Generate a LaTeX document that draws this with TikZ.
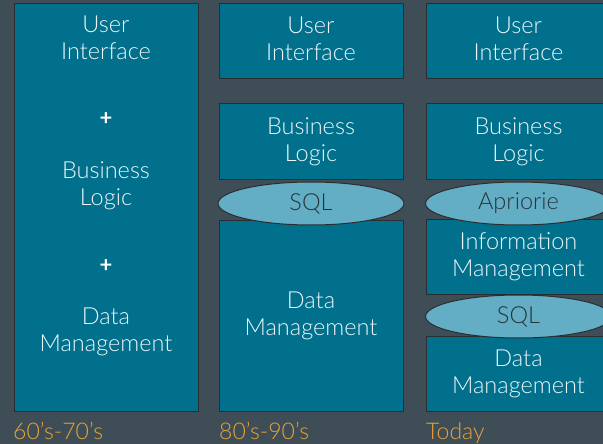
\documentclass[tikz,border=0pt]{standalone}
\usepackage{fontspec}
\setmainfont{Lato}[UprightFont=* Light, BoldFont=* Bold]
\usetikzlibrary{shapes.geometric}
\definecolor{bgslate}{HTML}{3E4D56}
\definecolor{boxteal}{HTML}{00708C}
\definecolor{ovalblue}{HTML}{63AEC4}
\definecolor{edgedark}{HTML}{2A2E30}
\definecolor{inkdark}{HTML}{26343A}
\definecolor{eraorange}{HTML}{E9A338}
\definecolor{paleink}{HTML}{EEF7FA}
\tikzset{
  tier/.style={draw=edgedark, fill=boxteal, line width=1pt, inner sep=0pt,
    minimum width=184pt},
  layer/.style={draw=edgedark, fill=ovalblue, ellipse, line width=1pt, inner sep=0pt,
    minimum width=186pt, minimum height=43pt, text=inkdark,
    font=\fontsize{23.5}{27}\selectfont},
  words/.style={text=paleink, align=center, font=\fontsize{23.5}{27}\selectfont},
  era/.style={text=eraorange, anchor=base west, inner sep=0pt, font=\fontsize{23}{26}\selectfont},
  joiner/.style={text=white, font=\fontsize{22}{26}\selectfont\bfseries}
}
\begin{document}
\begin{tikzpicture}[x=1pt, y=-1pt]
  \fill[bgslate] (0,0) rectangle (603,444);
  \clip (0,0) rectangle (603,444);
  \useasboundingbox (0,0) rectangle (603,444);

  % 60's-70's: one monolithic block
  \node[tier, minimum height=407pt] (mono) at (106,207.5) {};
  \node[words] (monoUI) at (106,38) {User\\Interface};
  \node[joiner] (plusA) at (106,119) {+};
  \node[words] (monoBL) at (106,185.5) {Business\\Logic};
  \node[joiner] (plusB) at (106,266) {+};
  \node[words] (monoDM) at (106,331.5) {Data\\Management};

  % 80's-90's: client / server
  \node[tier, minimum height=75pt] (csUI) at (311,41.5) {};
  \node[words] at (311,38.5) {User\\Interface};
  \node[tier, minimum height=75pt] (csBL) at (311,141.5) {};
  \node[words] at (csBL) {Business\\Logic};
  \node[tier, minimum height=191pt] (csDM) at (311,315.5) {};
  \node[words] at (csDM) {Data\\Management};
  \node[layer] (csSQL) at (311,203.5) {SQL};

  % Today: multi-tier
  \node[tier, minimum height=75pt] (mtUI) at (518.5,41.5) {};
  \node[words] at (518.5,38.5) {User\\Interface};
  \node[tier, minimum height=75pt] (mtBL) at (518.5,141.5) {};
  \node[words] at (mtBL) {Business\\Logic};
  \node[tier, minimum height=75pt] (mtIM) at (518.5,256.5) {};
  \node[words] at (mtIM) {Information\\Management};
  \node[tier, minimum height=75pt] (mtDM) at (518.5,373.5) {};
  \node[words] at (mtDM) {Data\\Management};
  \node[layer] (mtAP) at (518.5,203.5) {Apriorie};
  \node[layer] (mtSQL) at (518.5,316.5) {SQL};

  % era captions
  \node[era] (eraA) at (13,439) {60’s-70’s};
  \node[era] (eraB) at (219,439) {80’s-90’s};
  \node[era] (eraC) at (426,439) {Today};
\end{tikzpicture}
\end{document}
